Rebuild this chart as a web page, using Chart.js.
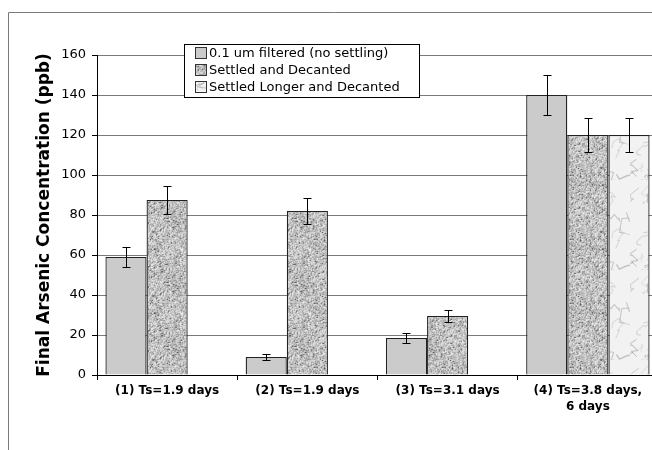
<!DOCTYPE html>
<html>
<head>
<meta charset="utf-8">
<script src="https://cdn.jsdelivr.net/npm/chart.js@4/dist/chart.umd.min.js"></script>
<style>
  html, body { margin: 0; padding: 0; background: #fff; }
  #wrap { width: 652px; height: 450px; overflow: hidden; }
</style>
</head>
<body>
<div id="wrap"><canvas id="chart" width="660" height="450"></canvas></div>
<script>
const categories = ['(1) Ts=1.9 days', '(2) Ts=1.9 days', '(3) Ts=3.1 days', ['(4) Ts=3.8 days,', '6 days']];
const seriesNames = ['0.1 um filtered (no settling)', 'Settled and Decanted', 'Settled Longer and Decanted'];
const filteredValues = [59, 9, 18.5, 140];
const filteredErrors = [5, 1.5, 2.5, 10];
const settledValues = [87.5, 82, 29.5, 120];
const settledErrors = [7, 6.5, 3, 8.5];
const settledLongerValues = [null, null, null, 120];
const settledLongerErrors = [null, null, null, 8.5];
const yMax = 160;
const yStep = 20;

// small seeded generator, only for the fill textures
const makeRand = (seed) => () => (seed = (seed * 16807) % 2147483647) / 2147483647;

const granitePattern = (ctx) => {
  const size = 64;
  const c = document.createElement('canvas');
  c.width = size; c.height = size;
  const g = c.getContext('2d');
  const img = g.createImageData(size, size);
  const rnd = makeRand(12345);
  const vals = [];
  for (let i = 0; i < size * size; i++) {
    let v = 155 + rnd() * 85;
    const r = rnd();
    if (r < 0.025) v = 65;
    else if (r < 0.11) v = 125;
    vals.push(v);
  }
  // soften a little by averaging with the right / lower neighbour
  for (let yy = 0; yy < size; yy++) {
    for (let xx = 0; xx < size; xx++) {
      const i = yy * size + xx;
      const a = vals[i];
      const b = vals[yy * size + ((xx + 1) % size)];
      const d = vals[((yy + 1) % size) * size + xx];
      const v = a * 0.6 + b * 0.2 + d * 0.2;
      img.data[i * 4] = v;
      img.data[i * 4 + 1] = v;
      img.data[i * 4 + 2] = v;
      img.data[i * 4 + 3] = 255;
    }
  }
  g.putImageData(img, 0, 0);
  return ctx.createPattern(c, 'repeat');
};

const marblePattern = (ctx) => {
  const size = 90;
  const c = document.createElement('canvas');
  c.width = size; c.height = size;
  const g = c.getContext('2d');
  g.fillStyle = '#f2f2f2';
  g.fillRect(0, 0, size, size);
  const rnd = makeRand(987);
  for (let k = 0; k < 40; k++) {
    let x = rnd() * size, y = rnd() * size;
    g.beginPath();
    g.moveTo(x, y);
    for (let s = 0; s < 5; s++) {
      x += (rnd() - 0.5) * 20;
      y += (rnd() - 0.3) * 14;
      g.lineTo(x, y);
    }
    g.strokeStyle = 'rgba(135,135,135,' + (0.2 + rnd() * 0.3) + ')';
    g.lineWidth = 0.6 + rnd() * 0.8;
    g.stroke();
  }
  return ctx.createPattern(c, 'repeat');
};

const canvas = document.getElementById('chart');
const ctx = canvas.getContext('2d');
const fills = ['#cbcbcb', granitePattern(ctx), marblePattern(ctx)];
const errors = [filteredErrors, settledErrors, settledLongerErrors];

const framePlugin = {
  id: 'frame',
  beforeDraw(chart) {
    const c = chart.ctx;
    c.save();
    c.fillStyle = '#fff';
    c.fillRect(0, 0, chart.width, chart.height);
    c.strokeStyle = '#7a7a7a';
    c.lineWidth = 1;
    c.beginPath();
    c.moveTo(8.5, chart.height);
    c.lineTo(8.5, 12.5);
    c.lineTo(chart.width, 12.5);
    c.stroke();
    c.restore();
  },
};

const errorBarPlugin = {
  id: 'errorBars',
  afterDatasetsDraw(chart) {
    const c = chart.ctx;
    const y = chart.scales.y;
    c.save();
    c.strokeStyle = '#000';
    c.lineWidth = 1;
    chart.data.datasets.forEach((ds, i) => {
      chart.getDatasetMeta(i).data.forEach((bar, j) => {
        const v = ds.data[j];
        const e = errors[i][j];
        if (v == null || e == null) return;
        const x = Math.round(bar.x) + 0.5;
        const top = Math.round(y.getPixelForValue(v + e)) + 0.5;
        const bot = Math.round(y.getPixelForValue(v - e)) + 0.5;
        c.beginPath();
        c.moveTo(x, top); c.lineTo(x, bot);
        c.moveTo(x - 4, top); c.lineTo(x + 4, top);
        c.moveTo(x - 4, bot); c.lineTo(x + 4, bot);
        c.stroke();
      });
    });
    c.restore();
  },
};

const legendPlugin = {
  id: 'boxLegend',
  afterDraw(chart) {
    const c = chart.ctx;
    const left = 184.5, top = 44.5, w = 235, h = 53;
    c.save();
    c.fillStyle = '#fff';
    c.fillRect(left, top, w, h);
    c.strokeStyle = '#000';
    c.lineWidth = 1;
    c.strokeRect(left, top, w, h);
    c.font = '13px "DejaVu Sans"';
    c.textBaseline = 'middle';
    chart.data.datasets.forEach((ds, i) => {
      const cy = 53 + i * 17;
      c.fillStyle = ds.backgroundColor;
      c.fillRect(196, cy - 5, 11, 11);
      c.strokeStyle = '#333';
      c.strokeRect(195.5, cy - 5.5, 11, 11);
      c.fillStyle = '#000';
      c.fillText(ds.label, 209, cy + 1);
    });
    c.restore();
  },
};

new Chart(ctx, {
  type: 'bar',
  data: {
    labels: categories,
    datasets: [
      { label: seriesNames[0], data: filteredValues, backgroundColor: fills[0] },
      { label: seriesNames[1], data: settledValues, backgroundColor: fills[1] },
      { label: seriesNames[2], data: settledLongerValues, backgroundColor: fills[2] },
    ],
  },
  options: {
    responsive: false,
    animation: false,
    devicePixelRatio: 1,
    layout: { padding: { left: 8, top: 55, right: 2, bottom: 0 } },
    datasets: {
      bar: {
        borderColor: '#222',
        borderWidth: 1.3,
        categoryPercentage: 0.88,
        barPercentage: 1,
      },
    },
    plugins: {
      legend: { display: false },
      tooltip: { enabled: false },
    },
    scales: {
      x: {
        grid: {
          offset: true,
          drawOnChartArea: false,
          color: '#000',
          tickLength: 5,
        },
        border: { color: '#000' },
        ticks: {
          color: '#000',
          maxRotation: 0,
          autoSkip: false,
          padding: 3,
          font: { family: 'DejaVu Sans', size: 12, weight: 'bold', lineHeight: 1.35 },
        },
        afterFit(axis) { axis.height = 75; },
      },
      y: {
        min: 0,
        max: yMax,
        ticks: {
          stepSize: yStep,
          color: '#000',
          padding: 6,
          font: { family: 'DejaVu Sans', size: 13 },
        },
        grid: { color: '#7a7a7a', tickColor: '#000', tickLength: 5 },
        border: { color: '#000' },
        title: {
          display: true,
          text: 'Final Arsenic Concentration (ppb)',
          color: '#000',
          padding: { top: 26, bottom: 0 },
          font: { family: 'DejaVu Sans', size: 17, weight: 'bold' },
        },
        afterFit(axis) { axis.width = 89; },
      },
    },
  },
  plugins: [framePlugin, errorBarPlugin, legendPlugin],
});
</script>
</body>
</html>
